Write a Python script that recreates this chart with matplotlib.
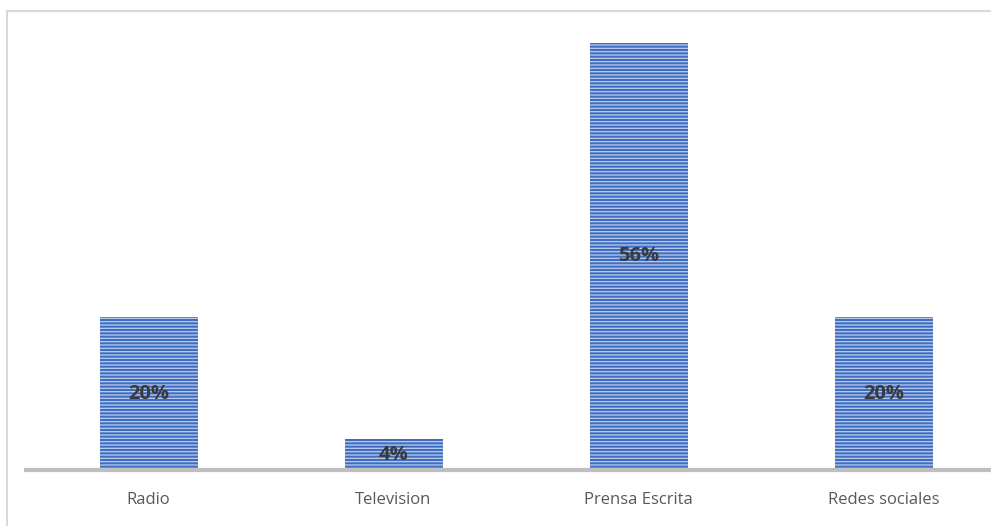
import matplotlib.pyplot as plt
from matplotlib.patches import Rectangle

categories = ['Radio', 'Television', 'Prensa Escrita', 'Redes sociales']
values = [20, 4, 56, 20]
labels = ['20%', '4%', '56%', '20%']

W, H = 991, 526
plt.rcParams['hatch.linewidth'] = 0.9

fig = plt.figure(figsize=(W / 100, H / 100), dpi=100)

# chart border (the chart area runs past the right/bottom edge)
fig.patches.append(Rectangle((7 / W, -0.1), 1.2, 1 - 11 / H + 0.1,
                             transform=fig.transFigure, fill=False,
                             edgecolor='#d9d9d9', linewidth=1.5))

# plot area, in pixels: x 26..1006, baseline at 470, 60% at 12
ax = fig.add_axes([26 / W, (H - 470) / H, 980 / W, 458 / H])
ax.set_xlim(-0.5, 3.5)
ax.set_ylim(0, 60)

x = range(len(categories))
bars = ax.bar(x, values, width=0.4, color='#3f6dc2', edgecolor='#bccdeb',
              linewidth=0, hatch='-----')

for b, v, lab in zip(bars, values, labels):
    ax.text(b.get_x() + b.get_width() / 2, v / 2, lab, ha='center', va='center',
            fontsize=14.5, fontweight='bold', color='#3a3a3a', family='Open Sans')

for s in ['top', 'right', 'left']:
    ax.spines[s].set_visible(False)
ax.spines['bottom'].set_color('#bfbfbf')
ax.spines['bottom'].set_linewidth(3)
ax.set_yticks([])
ax.set_xticks(list(x))
ax.set_xticklabels(categories, fontsize=12, color='#595959', family='Open Sans')
ax.tick_params(axis='x', length=0, pad=16)

fig.savefig('out.png', dpi=100)
